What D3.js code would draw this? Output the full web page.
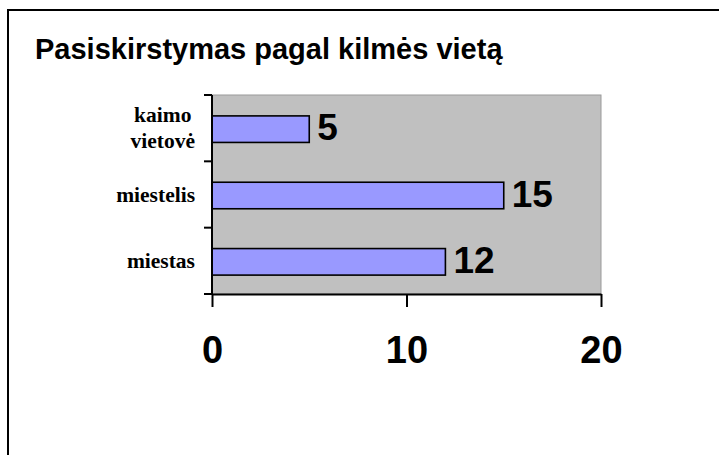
<!DOCTYPE html>
<head>
<meta charset="utf-8">
<title>Pasiskirstymas pagal kilmės vietą</title>
<script type="text/javascript" src="https://d3js.org/d3.v7.min.js"></script>
<style>
    body { margin: 0; background: #fff; }
</style>
</head>
<body>
<div id="my_dataviz"></div>
<script>

    // data
    var categories = ["kaimo vietovė", "miestelis", "miestas"];
    var labelLines = [["kaimo", "vietovė"], ["miestelis"], ["miestas"]];
    var values = [5, 15, 12];
    var xTicks = [0, 10, 20];

    var W = 720, H = 455;

    var svg = d3.select("#my_dataviz")
      .append("svg")
        .attr("width", W)
        .attr("height", H);

    // outer frame (only top and left edges are visible)
    svg.append("line").attr("x1", 7).attr("y1", 10).attr("x2", 719).attr("y2", 10)
        .attr("stroke", "#000").attr("stroke-width", 2);
    svg.append("line").attr("x1", 8).attr("y1", 9).attr("x2", 8).attr("y2", H)
        .attr("stroke", "#000").attr("stroke-width", 2);

    // title
    svg.append("text")
        .attr("x", 35)
        .attr("y", 59)
        .style("font-family", "'Liberation Sans', Arial, sans-serif")
        .style("font-weight", "bold")
        .style("font-size", "29px")
        .text("Pasiskirstymas pagal kilmės vietą");

    // scales
    var x = d3.scaleLinear()
      .domain([0, 20])
      .range([212, 601]);

    var y = d3.scaleBand()
      .domain(categories)
      .range([95, 294])
      .padding(0);

    var barH = y.bandwidth() * 0.4;

    // plot area
    svg.append("rect")
        .attr("x", x(0))
        .attr("y", y.range()[0])
        .attr("width", x(20) - x(0))
        .attr("height", y.range()[1] - y.range()[0])
        .attr("fill", "#c0c0c0")
        .attr("stroke", "#9a9a9a")
        .attr("stroke-width", 1);

    // bars
    svg.selectAll("mybar")
        .data(categories)
        .enter()
        .append("rect")
        .attr("x", x(0))
        .attr("y", function(d) { return y(d) + (y.bandwidth() - barH) / 2 + 1; })
        .attr("width", function(d, i) { return x(values[i]) - x(0); })
        .attr("height", barH)
        .attr("fill", "#9999ff")
        .attr("stroke", "#000")
        .attr("stroke-width", 1.6);

    // value labels
    svg.selectAll("vlabel")
        .data(categories)
        .enter()
        .append("text")
        .attr("x", function(d, i) { return x(values[i]) + 8; })
        .attr("y", function(d) { return y(d) + y.bandwidth() / 2 + 12; })
        .style("font-family", "'Liberation Sans', Arial, sans-serif")
        .style("font-weight", "bold")
        .style("font-size", "37px")
        .text(function(d, i) { return values[i]; });

    // y axis line + ticks at category boundaries
    svg.append("line")
        .attr("x1", x(0)).attr("x2", x(0))
        .attr("y1", y.range()[0]).attr("y2", y.range()[1])
        .attr("stroke", "#000").attr("stroke-width", 2);

    var bounds = categories.map(function(d) { return y(d); }).concat([y.range()[1]]);
    svg.selectAll("ytick")
        .data(bounds)
        .enter()
        .append("line")
        .attr("x1", x(0) - 8).attr("x2", x(0))
        .attr("y1", function(d) { return d; })
        .attr("y2", function(d) { return d; })
        .attr("stroke", "#000").attr("stroke-width", 2);

    // x axis
    var xAxis = svg.append("g")
        .attr("transform", "translate(0," + y.range()[1] + ")")
        .call(d3.axisBottom(x).tickValues(xTicks).tickSize(13).tickSizeOuter(0).tickFormat(d3.format("d")));
    xAxis.select(".domain").attr("stroke-width", 2);
    xAxis.selectAll(".tick line").attr("stroke-width", 2);
    xAxis.selectAll(".tick text")
        .attr("y", 69)
        .attr("dy", 0)
        .style("font-family", "'Liberation Sans', Arial, sans-serif")
        .style("font-weight", "bold")
        .style("font-size", "38px")
        .attr("fill", "#000");

    // category labels: lines centred among themselves, block right-aligned
    var labelRight = 195, lineH = 26;
    categories.forEach(function(c, i) {
        var lines = labelLines[i];
        var g = svg.append("g");
        var cy = y(c) + y.bandwidth() / 2;
        var first = cy + 7 - (lines.length - 1) * lineH / 2;
        var texts = g.selectAll("text")
            .data(lines)
            .enter()
            .append("text")
            .attr("y", function(d, j) { return first + j * lineH; })
            .attr("text-anchor", "middle")
            .style("font-family", "'Liberation Serif', 'Times New Roman', serif")
            .style("font-weight", "bold")
            .style("font-size", "21.5px")
            .text(function(d) { return d; });
        var maxW = 0;
        texts.each(function() { maxW = Math.max(maxW, this.getComputedTextLength()); });
        texts.attr("x", labelRight - maxW / 2);
    });

</script>
</body>
